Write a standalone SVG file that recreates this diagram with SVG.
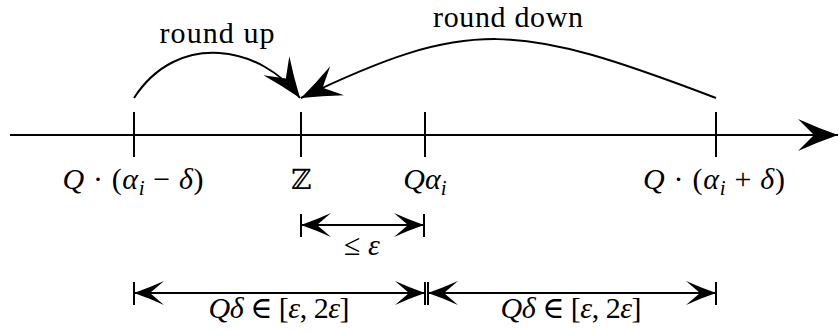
<svg xmlns="http://www.w3.org/2000/svg" width="839" height="332" viewBox="0 0 839 332">
<style>
  .ln { stroke: #000; stroke-width: 2; fill: none; }
  .tx { font-family: "Liberation Serif", "DejaVu Serif", serif; font-size: 30px; fill: #000; }
  .it { font-style: italic; }
  .sub { font-style: italic; font-size: 21px; }
  .bb { font-family: "DejaVu Serif", "DejaVu Sans", serif; font-size: 28px; }
</style>
<defs>
  <marker id="big" markerUnits="userSpaceOnUse" orient="auto" refX="0" refY="0" markerWidth="42" markerHeight="34" overflow="visible">
    <path d="M0,0 Q-20,-7 -40,-16 L-24,0 L-40,16 Q-20,7 0,0 Z" fill="#000"/>
  </marker>
  <marker id="small" markerUnits="userSpaceOnUse" orient="auto-start-reverse" refX="0" refY="0" markerWidth="32" markerHeight="26" overflow="visible">
    <path d="M0,0 Q-15,-5.2 -30,-12 L-16,0 L-30,12 Q-15,5.2 0,0 Z" fill="#000"/>
  </marker>
</defs>

<g id="axis">
  <line class="ln" x1="10" y1="135" x2="838" y2="135" marker-end="url(#big)"/>
</g>

<g id="node-left">
  <line class="ln" x1="134" y1="112" x2="134" y2="157"/>
  <text class="tx" x="133" y="189" text-anchor="middle" textLength="141"><tspan class="it">Q</tspan> · (<tspan class="it">α</tspan><tspan class="sub" dy="6">i</tspan><tspan dy="-6"> − </tspan><tspan class="it">δ</tspan>)</text>
</g>
<g id="node-z">
  <line class="ln" x1="301" y1="112" x2="301" y2="157"/>
  <text class="tx bb" x="301" y="189" text-anchor="middle">ℤ</text>
</g>
<g id="node-qa">
  <line class="ln" x1="425" y1="112" x2="425" y2="157"/>
  <text class="tx" x="425" y="189" text-anchor="middle"><tspan class="it">Qα</tspan><tspan class="sub" dy="6">i</tspan></text>
</g>
<g id="node-right">
  <line class="ln" x1="716" y1="112" x2="716" y2="157"/>
  <text class="tx" x="714" y="189" text-anchor="middle" textLength="142"><tspan class="it">Q</tspan> · (<tspan class="it">α</tspan><tspan class="sub" dy="6">i</tspan><tspan dy="-6"> + </tspan><tspan class="it">δ</tspan>)</text>
</g>

<g id="connectors">
  <path class="ln" d="M134,98 C178,30 262,46 300,98" marker-end="url(#big)"/>
  <path class="ln" d="M716,98 C516,22 470,17 301,98" marker-end="url(#big)"/>
  <line class="ln" x1="301" y1="225" x2="424" y2="225" marker-start="url(#small)" marker-end="url(#small)"/>
  <line class="ln" x1="134" y1="293" x2="425" y2="293" marker-start="url(#small)" marker-end="url(#small)"/>
  <line class="ln" x1="428" y1="293" x2="716" y2="293" marker-start="url(#small)" marker-end="url(#small)"/>
  <line class="ln" x1="301" y1="214" x2="301" y2="237"/>
  <line class="ln" x1="424" y1="214" x2="424" y2="237"/>
  <line class="ln" x1="134" y1="282" x2="134" y2="305"/>
  <line class="ln" x1="425" y1="282" x2="425" y2="305"/>
  <line class="ln" x1="428" y1="282" x2="428" y2="305"/>
  <line class="ln" x1="716" y1="282" x2="716" y2="305"/>
</g>

<g id="labels">
  <text class="tx" x="217" y="43" text-anchor="middle" textLength="115">round up</text>
  <text class="tx" x="508" y="27" text-anchor="middle" textLength="150">round down</text>
  <text class="tx" x="362" y="255" text-anchor="middle">≤ <tspan class="it">ε</tspan></text>
  <text class="tx" x="279" y="318" text-anchor="middle" textLength="141"><tspan class="it">Qδ</tspan> ∈ [<tspan class="it">ε</tspan>, 2<tspan class="it">ε</tspan>]</text>
  <text class="tx" x="571" y="318" text-anchor="middle" textLength="141"><tspan class="it">Qδ</tspan> ∈ [<tspan class="it">ε</tspan>, 2<tspan class="it">ε</tspan>]</text>
</g>
</svg>
